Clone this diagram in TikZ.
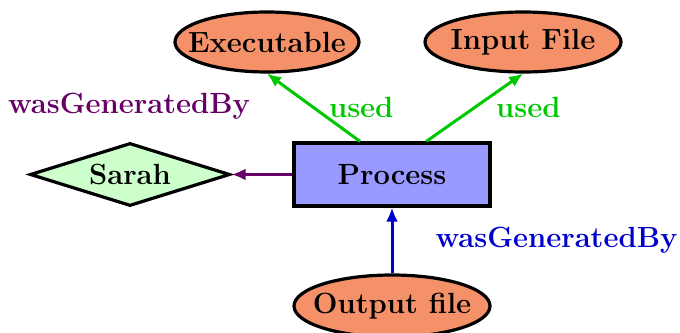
\documentclass[tikz,border=0pt]{standalone}
\usetikzlibrary{shapes.geometric,arrows.meta}

\definecolor{entityfill}{RGB}{245,145,105}
\definecolor{agentfill}{RGB}{204,255,204}
\definecolor{activityfill}{RGB}{153,153,255}
\definecolor{usedgreen}{RGB}{0,200,0}
\definecolor{genpurple}{RGB}{102,0,102}
\definecolor{genblue}{RGB}{0,0,204}

\begin{document}
\begin{tikzpicture}[x=0.5pt,y=-0.5pt,
    every node/.style={font=\fontsize{14.6}{17}\selectfont\bfseries},
    entity/.style={ellipse,draw,line width=1.6pt,fill=entityfill,inner xsep=-7pt,inner ysep=0pt,minimum height=30pt},
    activity/.style={rectangle,draw,line width=1.6pt,fill=activityfill,minimum width=98pt,minimum height=31.5pt},
    agent/.style={diamond,draw,line width=1.6pt,fill=agentfill,aspect=3,inner sep=1pt,minimum width=100pt,minimum height=31.5pt},
    edge/.style={line width=1.5pt,-{Latex[length=7pt,width=6pt]}}]
    \useasboundingbox (0,0) rectangle (680,332);

    % the nodes
    \node[entity,minimum width=92pt] (exec) at (267,42) {Executable};
    \node[entity,minimum width=98pt] (input) at (523,42) {Input File};
    \node[activity] (process) at (392,174.5) {Process};
    \node[agent] (sarah) at (130,174.5) {Sarah};
    \node[entity,minimum width=98pt,minimum height=31pt] (output) at (392,306) {Output file};

    % the edges
    \draw[edge,usedgreen] (process.134) -- (exec.south) node[midway,right=7pt,inner sep=0pt] {used};
    \draw[edge,usedgreen] (process.44) -- (input.south) node[midway,right=10pt,inner sep=0pt] {used};
    \draw[edge,genpurple] (process.west) -- (sarah.east);
    \draw[edge,genblue] (output.north) -- (process.south) node[midway,right=21pt,inner sep=0pt] {wasGeneratedBy};

    \node[text=genpurple] (genlabel) at (129,106) {wasGeneratedBy};
\end{tikzpicture}
\end{document}
